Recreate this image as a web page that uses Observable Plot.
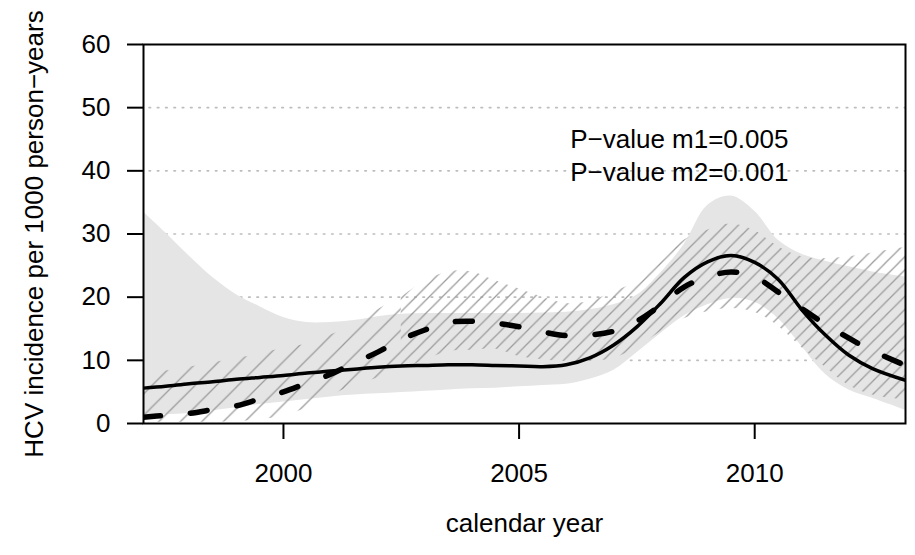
<!DOCTYPE html>
<html><head><meta charset="utf-8">
<script src="https://cdn.jsdelivr.net/npm/d3@7"></script>
<script src="https://cdn.jsdelivr.net/npm/@observablehq/plot@0.6"></script>
<style>
html,body{margin:0;padding:0;background:#fff;}
#chart svg{display:block;}
</style></head><body><div id="chart"></div>
<script>
// calendar years (x) and fitted incidence per 1000 person-years
const years = [1997.03,1997.5,1998,1998.5,1999,1999.5,2000,2000.5,2001,2001.5,2002,2002.5,2003,2003.5,2004,2004.5,2005,2005.5,2006,2006.5,2007,2007.5,2008,2008.5,2009,2009.5,2010,2010.5,2011,2011.5,2012,2012.5,2013.2];
// model 1 (solid line, grey band)
const m1   = [5.6,5.9,6.3,6.6,7.0,7.3,7.6,8.0,8.3,8.6,8.9,9.1,9.2,9.3,9.3,9.2,9.1,9.0,9.3,10.4,12.4,15.3,19.0,23.1,25.6,26.6,25.5,22.8,18.0,14.0,10.8,8.7,6.85];
const m1Lo = [1.2,1.4,1.6,2.0,2.5,3.0,3.4,3.8,4.2,4.5,4.7,4.9,5.1,5.3,5.5,5.6,5.8,6.0,6.2,7.0,8.4,11.2,14.2,17.0,18.8,19.8,19.2,16.6,12.2,7.8,5.3,4.0,2.1];
const m1Hi = [33.5,30.2,26.5,23.1,20.4,18.5,16.8,16.0,16.0,16.3,16.9,17.3,17.4,17.4,17.4,17.4,17.4,17.5,17.6,18.0,18.8,20.3,23.8,28.3,34.5,36.0,33.6,29.0,26.8,25.7,24.8,24.0,23.2];
// model 2 (dashed line, hatched band)
const m2   = [1.0,1.3,1.6,2.2,2.8,3.9,5.0,6.4,7.8,9.6,11.3,13.3,14.8,16.0,16.2,15.9,15.3,14.5,13.9,14.0,14.6,16.2,18.7,21.6,23.2,24.0,23.2,20.8,18.2,15.7,13.5,11.5,9.2];
const m2Lo = [0.2,0.2,0.2,0.2,0.3,0.6,1.2,2.5,4.4,6.0,7.2,8.5,10.0,11.4,11.6,11.8,10.6,10.1,9.8,9.8,10.3,12.0,14.5,16.6,17.7,18.2,17.6,15.4,12.0,8.9,6.0,4.5,3.7];
const m2Hi = [7.7,8.3,8.9,9.6,10.3,11.0,11.9,12.6,14.0,15.5,18.0,20.0,22.5,24.0,24.0,22.6,21.3,20.0,19.0,19.3,20.8,22.5,25.5,29.0,30.6,31.6,30.5,28.0,26.4,26.1,26.4,27.0,27.9];

const xTicks = [2000, 2005, 2010];
const yTicks = [0, 10, 20, 30, 40, 50, 60];
const gridValues = [10, 20, 30, 40, 50];
const pLabels = ["P\u2212value m1=0.005", "P\u2212value m2=0.001"];
const pLabelY = [45, 39.7];
const pLabelX = 2008.4;
const xTitle = "calendar year";
const yTitle = "HCV incidence per 1000 person\u2212years";

const rows = years.map((x, i) => ({x, m1: m1[i], m1Lo: m1Lo[i], m1Hi: m1Hi[i], m2: m2[i], m2Lo: m2Lo[i], m2Hi: m2Hi[i]}));
const splitYear = 2002.5;
const rowsLeft = rows.filter(d => d.x <= splitYear);
const rowsRight = rows.filter(d => d.x >= splitYear);
const annot = pLabels.map((t, i) => ({t, x: pLabelX, y: pLabelY[i]}));

const FONT = "'Liberation Sans', Arial, Helvetica, sans-serif";
const FS = 26;
const curve = "catmull-rom";

const chart = Plot.plot({
  width: 915, height: 555,
  marginLeft: 143, marginRight: 10, marginTop: 44, marginBottom: 132,
  style: {fontFamily: FONT, fontSize: FS + "px", background: "white", color: "black", overflow: "visible"},
  x: {domain: [1997.03, 2013.2]},
  y: {domain: [0, 60]},
  marks: [
    Plot.ruleY(gridValues, {stroke: "#bdbdbd", strokeWidth: 1.6, strokeDasharray: "1.6,6.7", strokeDashoffset: -6, strokeLinecap: "round"}),
    Plot.areaY(rows, {x: "x", y1: "m1Lo", y2: "m1Hi", fill: "#e5e5e5", curve, clip: true}),
    Plot.areaY(rowsLeft, {x: "x", y1: "m2Lo", y2: "m2Hi", fill: "url(#hatchWide)", curve, clip: true}),
    Plot.areaY(rowsRight, {x: "x", y1: "m2Lo", y2: "m2Hi", fill: "url(#hatchNarrow)", curve, clip: true}),
    Plot.lineY(rows, {x: "x", y: "m1", stroke: "black", strokeWidth: 3.5, curve, clip: true, strokeLinecap: "round"}),
    Plot.lineY(rows, {x: "x", y: "m2", stroke: "black", strokeWidth: 5.5, curve, clip: true, strokeDasharray: "17,30", strokeLinecap: "round"}),
    Plot.frame({stroke: "black", strokeWidth: 2}),
    Plot.axisY(yTicks, {tickSize: 16, tickPadding: 17, strokeWidth: 2, fontSize: FS, label: null}),
    Plot.axisX(xTicks, {tickSize: 16, tickPadding: 24, strokeWidth: 2, fontSize: FS, label: null, tickFormat: d => String(d)}),
    Plot.text(annot, {x: "x", y: "y", text: "t", fontSize: FS, textAnchor: "middle", fill: "black"}),
    Plot.text([xTitle], {frameAnchor: "bottom", dy: 108, fontSize: FS, fill: "black", textAnchor: "middle"}),
    Plot.text([yTitle], {frameAnchor: "left", dx: -109, rotate: -90, fontSize: FS, fill: "black", textAnchor: "middle"})
  ]
});

// hatch patterns for the model 2 confidence band
const svg = d3.select(chart.tagName.toLowerCase() === "svg" ? chart : chart.querySelector("svg"));
const defs = svg.insert("defs", ":first-child");
function hatch(id, s) {
  const p = defs.append("pattern").attr("id", id).attr("patternUnits", "userSpaceOnUse")
    .attr("width", s).attr("height", s);
  p.append("path")
    .attr("d", `M0,${s} L${s},0 M-2,2 L2,-2 M${s - 2},${s + 2} L${s + 2},${s - 2}`)
    .attr("stroke", "#9b9b9b").attr("stroke-width", 1.3).attr("fill", "none");
}
hatch("hatchWide", 21.5);
hatch("hatchNarrow", 13.2);

document.getElementById("chart").appendChild(chart);
</script>
</body></html>
